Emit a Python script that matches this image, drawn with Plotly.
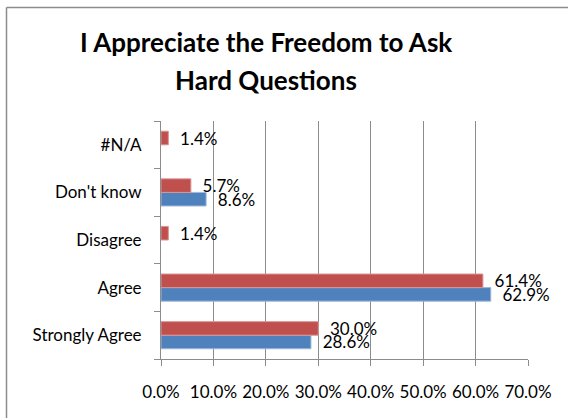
import plotly.graph_objects as go

categories = ["Strongly Agree", "Agree", "Disagree", "Don't know", "#N/A"]
blue_values = [28.6, 62.9, None, 8.6, None]
red_values = [30.0, 61.4, 1.4, 5.7, 1.4]
x_ticks = [0, 10, 20, 30, 40, 50, 60, 70]
x_tick_labels = ["0.0%", "10.0%", "20.0%", "30.0%", "40.0%", "50.0%", "60.0%", "70.0%"]
title_lines = ["I Appreciate the Freedom to Ask", "Hard Questions"]

FONT = "Lato"
W, H = 568, 418
L, R, T, B = 161, 40, 121, 59
pw = W - L - R
ph = H - T - B

def px_x(p):
    return (p - L) / pw

def px_y(p):
    return (H - B - p) / ph

def labels(vals):
    return ["\u00a0\u00a0%.1f%%" % v if v is not None else "" for v in vals]

fig = go.Figure()
fig.add_trace(go.Bar(
    y=categories, x=blue_values, orientation="h", name="Series 1",
    marker=dict(color="#4F81BD", line=dict(color="#9CB8DA", width=1)),
    text=labels(blue_values), textposition="outside", constraintext="none",
    cliponaxis=False, textfont=dict(family=FONT, size=17, color="#000000"),
))
fig.add_trace(go.Bar(
    y=categories, x=red_values, orientation="h", name="Series 2",
    marker=dict(color="#C0504D", line=dict(color="#D99694", width=1)),
    text=labels(red_values), textposition="outside", constraintext="none",
    cliponaxis=False, textfont=dict(family=FONT, size=17, color="#000000"),
))

# chart-area frame: only the left and top edges fall inside the picture
fig.add_shape(type="line", xref="paper", yref="paper",
              x0=px_x(6.5), x1=px_x(6.5), y0=px_y(H + 5), y1=px_y(7.5),
              line=dict(color="#8C8C8C", width=1.5), layer="below")
fig.add_shape(type="line", xref="paper", yref="paper",
              x0=px_x(6.5), x1=px_x(W + 5), y0=px_y(7.5), y1=px_y(7.5),
              line=dict(color="#8C8C8C", width=1.5), layer="below")

for line, ymid in zip(title_lines, [42, 80]):
    fig.add_annotation(text="<b>%s</b>" % line, xref="paper", yref="paper",
                       x=px_x(266), y=px_y(ymid), xanchor="center", yanchor="middle",
                       showarrow=False,
                       font=dict(family=FONT, size=26, color="#000000"))

fig.update_layout(
    width=W, height=H,
    margin=dict(l=L, r=R, t=T, b=B),
    paper_bgcolor="white", plot_bgcolor="white",
    barmode="group", bargap=0.43, bargroupgap=0,
    showlegend=False,
    font=dict(family=FONT, size=17, color="#000000"),
    xaxis=dict(range=[0, 70], tickvals=x_ticks, ticktext=x_tick_labels,
               showgrid=True, gridcolor="#8C8C8C", gridwidth=1,
               showline=True, linecolor="#8C8C8C", linewidth=1,
               ticks="outside", ticklen=6, tickcolor="#8C8C8C",
               zeroline=False, tickfont=dict(family=FONT, size=17),
               ticklabelstandoff=12),
    yaxis=dict(showgrid=False, showline=True, linecolor="#8C8C8C", linewidth=1,
               ticks="outside", ticklen=6, tickcolor="#8C8C8C", tickson="boundaries",
               tickfont=dict(family=FONT, size=17), ticklabelstandoff=15,
               zeroline=False),
)

fig.write_html("out.html", config={"displayModeBar": False},
               post_script="document.body.style.margin='0';document.body.style.overflow='hidden';")
